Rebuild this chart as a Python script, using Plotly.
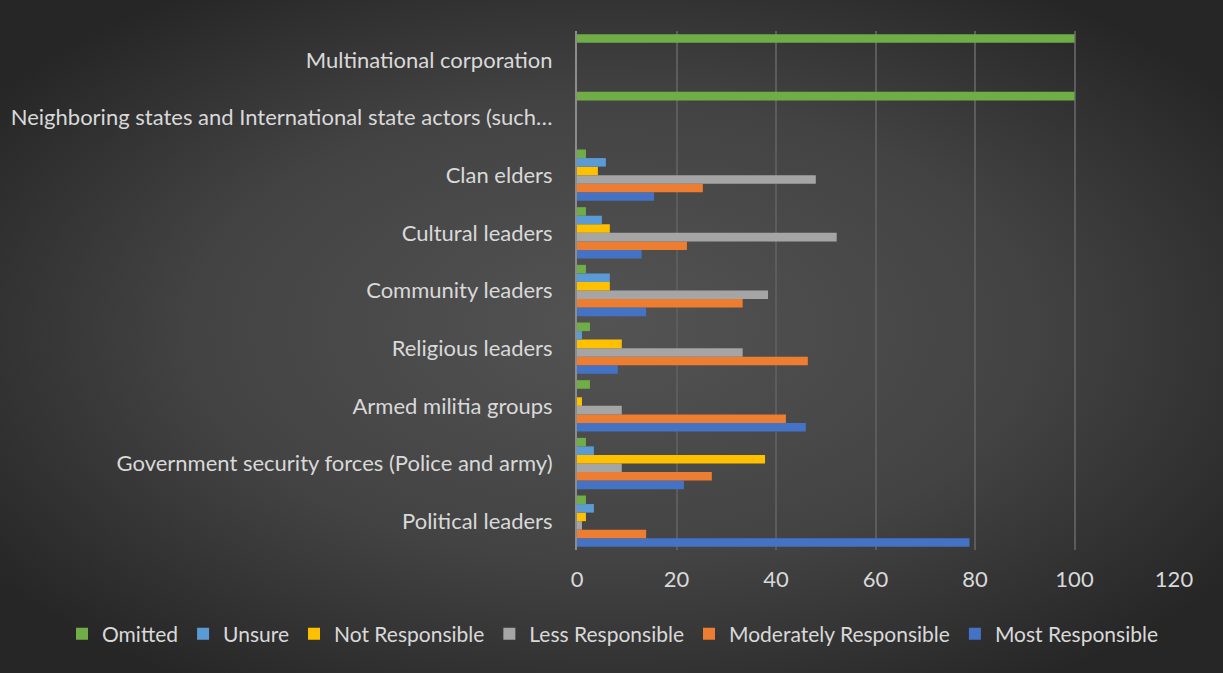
import base64
import plotly.graph_objects as go

# Categories, bottom to top
categories = [
    "Political leaders",
    "Government security forces (Police and army)",
    "Armed militia groups",
    "Religious leaders",
    "Community leaders",
    "Cultural leaders",
    "Clan elders",
    "Neighboring states and International state actors (such…",
    "Multinational corporation",
]

most_responsible = [78.9, 21.5, 46.0, 8.2, 13.9, 13.0, 15.5, 0, 0]
moderately_responsible = [13.9, 27.1, 42.0, 46.4, 33.3, 22.1, 25.3, 0, 0]
less_responsible = [1.0, 9.0, 9.0, 33.3, 38.4, 52.2, 48.0, 0, 0]
not_responsible = [1.8, 37.8, 1.0, 9.0, 6.6, 6.6, 4.2, 0, 0]
unsure = [3.4, 3.4, 0, 1.0, 6.6, 5.0, 5.8, 0, 0]
omitted = [1.8, 1.8, 2.6, 2.6, 1.8, 1.8, 1.8, 100, 100]

x_ticks = [0, 20, 40, 60, 80, 100, 120]

series = [
    ("Most Responsible", most_responsible, "#4472C4"),
    ("Moderately Responsible", moderately_responsible, "#ED7D31"),
    ("Less Responsible", less_responsible, "#A5A5A5"),
    ("Not Responsible", not_responsible, "#FFC000"),
    ("Unsure", unsure, "#5B9BD5"),
    ("Omitted", omitted, "#70AD47"),
]

FONT = "Lato"
FSIZE = 22
TEXT = "#d9d9d9"

fig = go.Figure()
for name, vals, color in series:
    fig.add_trace(go.Bar(
        y=categories, x=vals, name=name, orientation="h",
        marker=dict(color=color, line=dict(width=0)),
    ))

# Dark radial-gradient backdrop
W, H = 1223, 673
svg = f"""<svg xmlns='http://www.w3.org/2000/svg' width='{W}' height='{H}' viewBox='0 0 {W} {H}' preserveAspectRatio='none'>
<defs><radialGradient id='g' cx='0.5' cy='0.5' r='0.62' fx='0.5' fy='0.48'>
<stop offset='0' stop-color='#535353'/>
<stop offset='0.55' stop-color='#434343'/>
<stop offset='1' stop-color='#262626'/>
</radialGradient></defs>
<rect width='{W}' height='{H}' fill='url(#g)'/>
</svg>"""
bg_uri = "data:image/svg+xml;base64," + base64.b64encode(svg.encode()).decode()

ml, mr, mt, mb = 577, 49, 31, 123
pw, ph = W - ml - mr, H - mt - mb

fig.update_layout(
    width=W, height=H,
    margin=dict(l=ml, r=mr, t=mt, b=mb),
    paper_bgcolor="#2a2a2a",
    plot_bgcolor="rgba(0,0,0,0)",
    barmode="group",
    bargap=0.11,
    bargroupgap=0,
    font=dict(family=FONT, size=FSIZE, color=TEXT),
    images=[dict(
        source=bg_uri, xref="paper", yref="paper",
        x=-ml / pw, y=1 + mt / ph, sizex=W / pw, sizey=H / ph,
        xanchor="left", yanchor="top", sizing="stretch", layer="below",
    )],
    # anchored left of the plot area so the single row may span the width
    legend=dict(
        orientation="h", traceorder="reversed",
        xref="paper", yref="paper",
        x=(62 - ml) / pw, xanchor="left",
        y=-(634 - (H - mb)) / ph, yanchor="middle",
        font=dict(family=FONT, size=21, color=TEXT),
        itemwidth=30,
        bgcolor="rgba(0,0,0,0)",
    ),
    showlegend=True,
)

fig.update_xaxes(
    range=[0, 120], tickvals=x_ticks,
    showgrid=True, gridcolor="#5c5c5c", gridwidth=1.5,
    zeroline=False, showline=False,
    tickfont=dict(family=FONT, size=FSIZE, color=TEXT),
    ticklabelstandoff=14,
)
fig.update_yaxes(
    showgrid=False, zeroline=False,
    showline=True, linecolor="#8c8c8c", linewidth=2,
    tickfont=dict(family=FONT, size=FSIZE, color=TEXT),
    ticklabelstandoff=18,
)

fig.write_html("out.html")
